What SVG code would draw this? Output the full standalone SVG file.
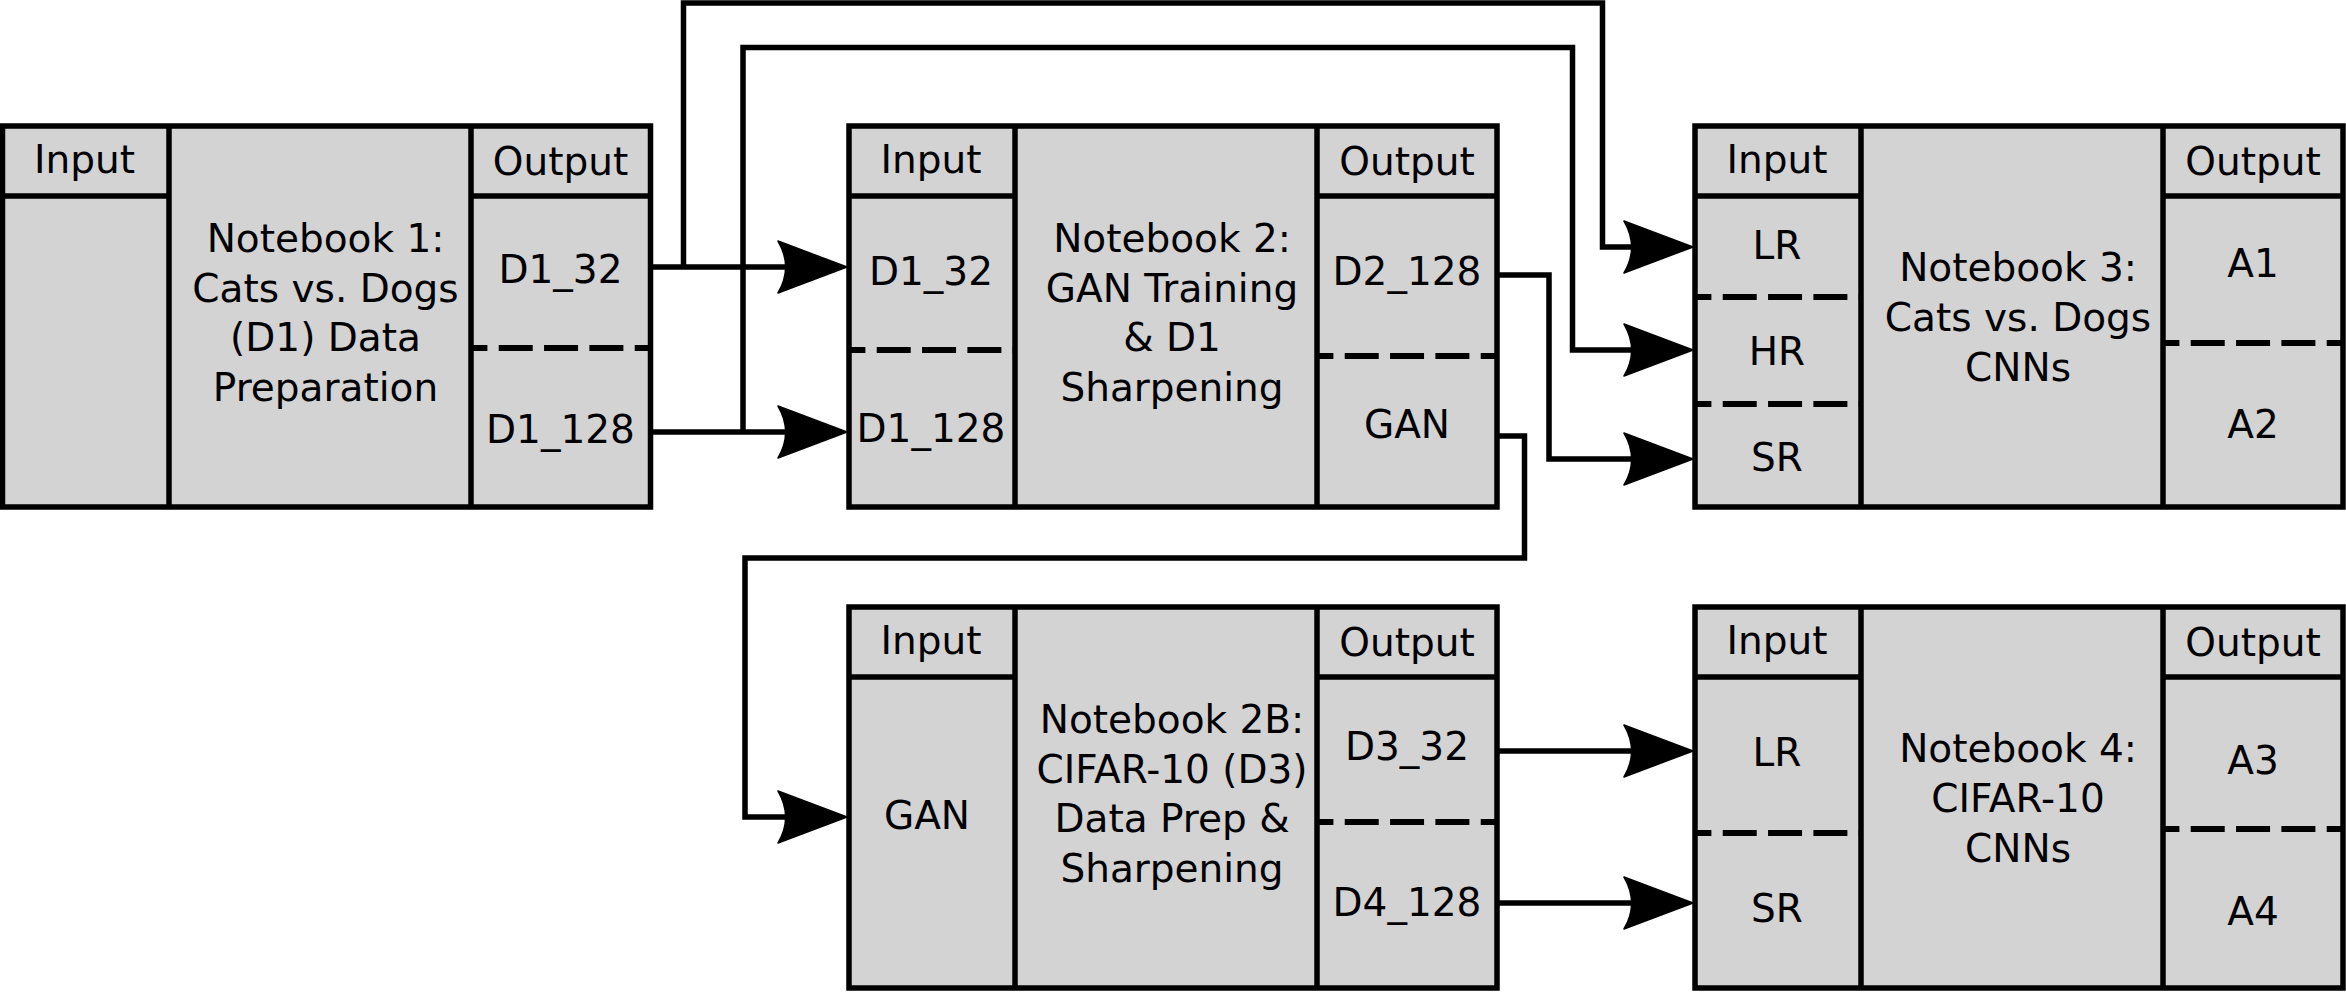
<svg xmlns="http://www.w3.org/2000/svg" width="2346" height="992" viewBox="0 0 2346 992">
<style>
.box{fill:#d3d3d3;stroke:#000;stroke-width:5.5}
.div{stroke:#000;stroke-width:5.5;fill:none}
.dash{stroke:#000;stroke-width:6;fill:none;stroke-dasharray:34 11.33;stroke-dashoffset:17.6}
.con{stroke:#000;stroke-width:5.5;fill:none;marker-end:url(#arrow)}
text{font-family:"DejaVu Sans","Liberation Sans",sans-serif;font-size:39px;fill:#000;text-anchor:middle}
</style>
<defs>
<marker id="arrow" markerUnits="userSpaceOnUse" markerWidth="80" markerHeight="60" viewBox="-72 -30 80 60" refX="-8" refY="0" orient="auto" overflow="visible">
<path d="M0,0 L-69,-26 C-59,-9 -59,9 -69,26 Z" fill="#000" stroke="#000" stroke-width="1.5" stroke-linejoin="round"/>
</marker>
</defs>
<rect width="2346" height="992" fill="#fff"/>

<g id="connectors">
<path class="con" d="M650.5,267 H839"/>
<path class="con" d="M683.5,267 V3 H1602.5 V247 H1685"/>
<path class="con" d="M650.5,432 H839"/>
<path class="con" d="M743,432 V47.5 H1572.5 V350 H1685"/>
<path class="con" d="M1497,275 H1549 V459 H1685"/>
<path class="con" d="M1497,436 H1524.5 V558 H745 V817 H839"/>
<path class="con" d="M1497,751 H1685"/>
<path class="con" d="M1497,903 H1685"/>
</g>

<g id="notebook1">
<rect class="box" x="2.5" y="126" width="648" height="381"/>
<line class="div" x1="169" y1="126" x2="169" y2="507"/>
<line class="div" x1="471" y1="126" x2="471" y2="507"/>
<line class="div" x1="2.5" y1="196" x2="169" y2="196"/>
<line class="div" x1="471" y1="196" x2="650.5" y2="196"/>
<line class="dash" x1="471" y1="348" x2="650.5" y2="348"/>
<text x="84.5" y="173">Input</text>
<text x="560.5" y="175">Output</text>
<text x="325.5" y="252">Notebook 1:</text>
<text x="325.5" y="302">Cats vs. Dogs</text>
<text x="325.5" y="351">(D1) Data</text>
<text x="325.5" y="401">Preparation</text>
<text x="560.5" y="283">D1_32</text>
<text x="560.5" y="443">D1_128</text>
</g>

<g id="notebook2">
<rect class="box" x="849" y="126" width="648" height="381"/>
<line class="div" x1="1015" y1="126" x2="1015" y2="507"/>
<line class="div" x1="1317" y1="126" x2="1317" y2="507"/>
<line class="div" x1="849" y1="196" x2="1015" y2="196"/>
<line class="div" x1="1317" y1="196" x2="1497" y2="196"/>
<line class="dash" x1="849" y1="350" x2="1015" y2="350"/>
<line class="dash" x1="1317" y1="356" x2="1497" y2="356"/>
<text x="931" y="173">Input</text>
<text x="1407" y="175">Output</text>
<text x="1172" y="252">Notebook 2:</text>
<text x="1172" y="302">GAN Training</text>
<text x="1172" y="351">&amp; D1</text>
<text x="1172" y="401">Sharpening</text>
<text x="931" y="285">D1_32</text>
<text x="931" y="442">D1_128</text>
<text x="1407" y="285">D2_128</text>
<text x="1407" y="438">GAN</text>
</g>

<g id="notebook3">
<rect class="box" x="1695" y="126" width="648" height="381"/>
<line class="div" x1="1861" y1="126" x2="1861" y2="507"/>
<line class="div" x1="2163" y1="126" x2="2163" y2="507"/>
<line class="div" x1="1695" y1="196" x2="1861" y2="196"/>
<line class="div" x1="2163" y1="196" x2="2343" y2="196"/>
<line class="dash" x1="1695" y1="297" x2="1861" y2="297"/>
<line class="dash" x1="1695" y1="404" x2="1861" y2="404"/>
<line class="dash" x1="2163" y1="343" x2="2343" y2="343"/>
<text x="1777" y="173">Input</text>
<text x="2253" y="175">Output</text>
<text x="2018" y="281">Notebook 3:</text>
<text x="2018" y="331">Cats vs. Dogs</text>
<text x="2018" y="381">CNNs</text>
<text x="1777" y="259">LR</text>
<text x="1777" y="365">HR</text>
<text x="1777" y="471">SR</text>
<text x="2253" y="277">A1</text>
<text x="2253" y="438">A2</text>
</g>

<g id="notebook2b">
<rect class="box" x="849" y="607" width="648" height="381"/>
<line class="div" x1="1015" y1="607" x2="1015" y2="988"/>
<line class="div" x1="1317" y1="607" x2="1317" y2="988"/>
<line class="div" x1="849" y1="677" x2="1015" y2="677"/>
<line class="div" x1="1317" y1="677" x2="1497" y2="677"/>
<line class="dash" x1="1317" y1="822" x2="1497" y2="822"/>
<text x="931" y="654">Input</text>
<text x="1407" y="656">Output</text>
<text x="1172" y="733">Notebook 2B:</text>
<text x="1172" y="783">CIFAR-10 (D3)</text>
<text x="1172" y="832">Data Prep &amp;</text>
<text x="1172" y="882">Sharpening</text>
<text x="927" y="829">GAN</text>
<text x="1407" y="760">D3_32</text>
<text x="1407" y="916">D4_128</text>
</g>

<g id="notebook4">
<rect class="box" x="1695" y="607" width="648" height="381"/>
<line class="div" x1="1861" y1="607" x2="1861" y2="988"/>
<line class="div" x1="2163" y1="607" x2="2163" y2="988"/>
<line class="div" x1="1695" y1="677" x2="1861" y2="677"/>
<line class="div" x1="2163" y1="677" x2="2343" y2="677"/>
<line class="dash" x1="1695" y1="833" x2="1861" y2="833"/>
<line class="dash" x1="2163" y1="829" x2="2343" y2="829"/>
<text x="1777" y="654">Input</text>
<text x="2253" y="656">Output</text>
<text x="2018" y="762">Notebook 4:</text>
<text x="2018" y="812">CIFAR-10</text>
<text x="2018" y="862">CNNs</text>
<text x="1777" y="766">LR</text>
<text x="1777" y="922">SR</text>
<text x="2253" y="774">A3</text>
<text x="2253" y="925">A4</text>
</g>
</svg>
